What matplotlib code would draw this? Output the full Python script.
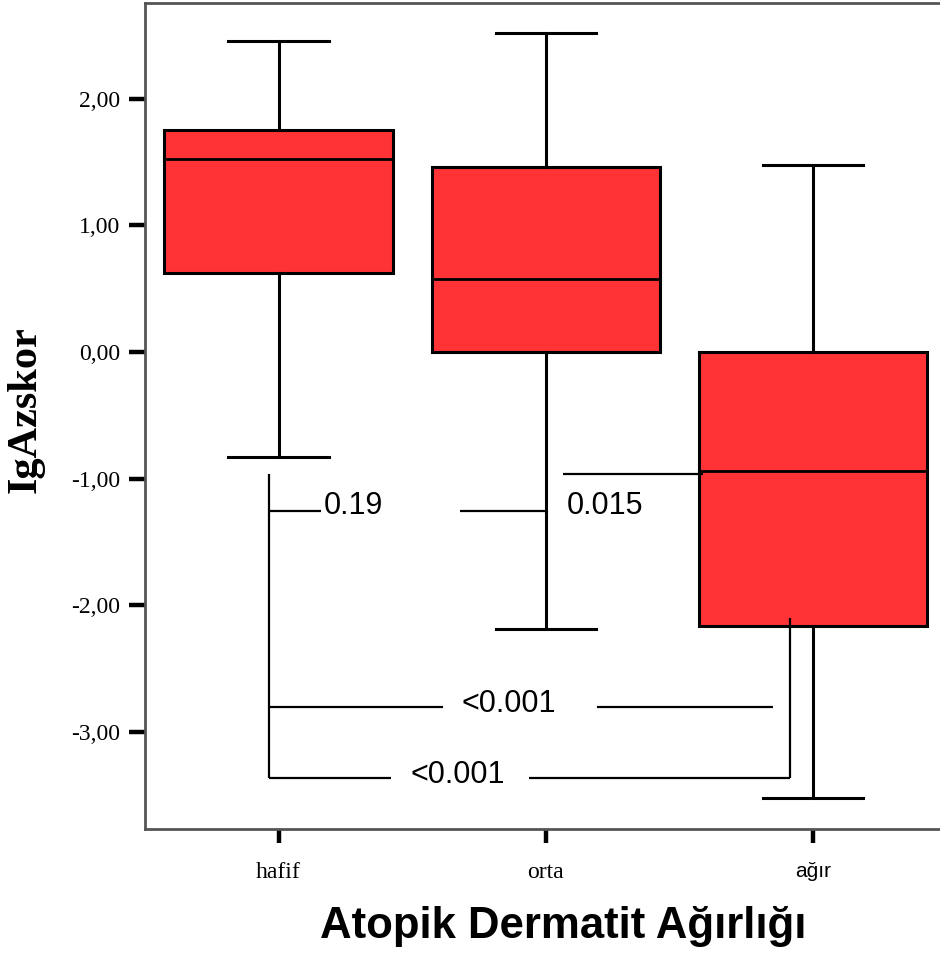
import matplotlib
matplotlib.use('Agg')
import matplotlib.pyplot as plt

# ---- data ----
categories = ['hafif', 'orta', 'ağır']
whisker_low = [-0.83, -2.19, -3.52]
q1 = [0.625, 0.0, -2.16]
median = [1.525, 0.58, -0.94]
q3 = [1.75, 1.46, 0.0]
whisker_high = [2.455, 2.52, 1.48]
y_ticks = [-3, -2, -1, 0, 1, 2]
y_tick_labels = ['-3,00', '-2,00', '-1,00', '0,00', '1,00', '2,00']
p_values = ['0.19', '0.015', '<0.001', '<0.001']

W, H = 940, 965
fig = plt.figure(figsize=(W / 100, H / 100), dpi=100)
ax = fig.add_axes([145 / W, 136 / H, (946.5 - 145) / W, 826 / H])

stats = [dict(label=c, whislo=wl, q1=a, med=m, q3=b, whishi=wh, fliers=[])
         for c, wl, a, m, b, wh in zip(categories, whisker_low, q1, median, q3, whisker_high)]
positions = list(range(len(categories)))
ax.bxp(stats, positions=positions, widths=0.855, capwidths=0.375,
       patch_artist=True, showfliers=False,
       boxprops=dict(facecolor='#FF3336', edgecolor='black', linewidth=2.2),
       medianprops=dict(color='black', linewidth=2.0),
       whiskerprops=dict(color='black', linewidth=2.2),
       capprops=dict(color='black', linewidth=2.2))

ax.set_xlim(-0.5, 2.5)
ax.set_ylim(-3.765, 2.755)

# ---- p-value brackets ----
lw_a = 1.6
k = dict(color='black', lw=lw_a, solid_capstyle='butt')
xl = -0.0375
ax.plot([xl, xl], [-0.963, -3.362], **k)
ax.plot([xl, 0.16], [-1.253, -1.253], **k)
ax.plot([0.678, 1.0], [-1.253, -1.253], **k)
ax.plot([1.065, 1.588], [-0.965, -0.965], **k)
ax.plot([xl, 0.614], [-2.802, -2.802], **k)
ax.plot([1.19, 1.85], [-2.802, -2.802], **k)
ax.plot([xl, 0.419], [-3.362, -3.362], **k)
ax.plot([0.936, 1.914], [-3.362, -3.362], **k)
ax.plot([1.914, 1.914], [-3.362, -2.097], **k)

tk = dict(fontsize=22, family='Liberation Sans', color='black', va='baseline')
ax.text(0.169, -1.279, p_values[0], ha='left', **tk)
ax.text(1.077, -1.279, p_values[1], ha='left', **tk)
ax.text(0.863, -2.84, p_values[2], ha='center', **tk)
ax.text(0.670, -3.40, p_values[3], ha='center', **tk)

# ---- axes styling ----
for s in ['left', 'top', 'bottom']:
    ax.spines[s].set_color('#555555')
    ax.spines[s].set_linewidth(2.0)
ax.spines['right'].set_visible(False)

ax.set_yticks(y_ticks)
ax.set_yticklabels(y_tick_labels, family='Liberation Serif', fontsize=17)
ax.set_xticks(positions)
ax.set_xticklabels(categories)
for lab in ax.get_xticklabels():
    if lab.get_text() == 'ağır':
        lab.set_family('Liberation Sans')
        lab.set_fontsize(15)
    else:
        lab.set_family('Liberation Serif')
        lab.set_fontsize(17)
ax.tick_params(axis='y', direction='out', length=11.5, width=3.2, color='black', pad=6.5)
ax.tick_params(axis='x', direction='out', length=10, width=3.2, color='black', pad=14)

fig.text(0.522 * (946.5 - 145) / W + 145 / W, 1 - 938 / H, 'Atopik Dermatit Ağırlığı',
         ha='center', va='baseline', fontsize=31.5, fontweight='bold', family='Liberation Sans')
fig.text(26 / W, 1 - 410 / H, 'IgAzskor', rotation=90, ha='center', va='center',
         fontsize=30.5, fontweight='bold', family='Liberation Serif')

fig.savefig('out.png', dpi=100)
